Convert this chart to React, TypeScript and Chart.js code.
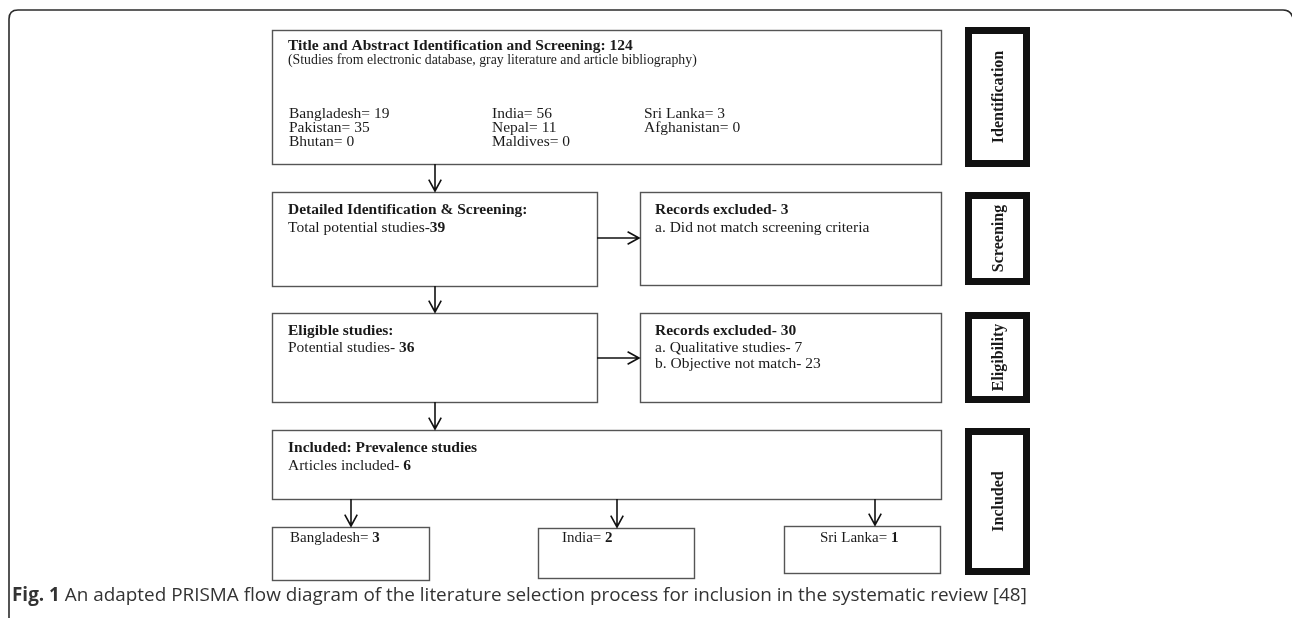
import React, { useEffect, useRef } from "react";
import { Chart, registerables } from "chart.js";

Chart.register(...registerables);

// ---- content (data) ----
const stageLabels = ["Identification", "Screening", "Eligibility", "Included"];
const screeningTotal = 124;
const sourceNote = "(Studies from electronic database, gray literature and article bibliography)";
const countryNames = ["Bangladesh", "Pakistan", "Bhutan", "India", "Nepal", "Maldives", "Sri Lanka", "Afghanistan"];
const countryCounts = [19, 35, 0, 56, 11, 0, 3, 0];
const detailedTotal = 39;
const excludedScreening = 3;
const screeningReason = "a. Did not match screening criteria";
const eligibleTotal = 36;
const excludedEligibility = 30;
const eligibilityReasons = ["a. Qualitative studies", "b. Objective not match"];
const eligibilityReasonCounts = [7, 23];
const includedTotal = 6;
const includedCountries = ["Bangladesh", "India", "Sri Lanka"];
const includedCounts = [3, 2, 1];
const captionLabel = "Fig. 1";
const captionText = " An adapted PRISMA flow diagram of the literature selection process for inclusion in the systematic review [48]";

// ---- layout (diagram coordinates, mapped through the chart scales) ----
const W = 1292;
const H = 618;
const SERIF = "'Liberation Serif', 'Times New Roman', serif";
const SANS = "'Open Sans', 'Noto Sans', sans-serif";
const FS = 15.5;

type Box = [number, number, number, number];
const boxTop: Box = [272, 30, 941, 164];
const boxDetailed: Box = [272, 192, 597, 286];
const boxExcl1: Box = [640, 192, 941, 285];
const boxEligible: Box = [272, 313, 597, 402];
const boxExcl2: Box = [640, 313, 941, 402];
const boxIncluded: Box = [272, 430, 941, 499];
const bottomBoxes: Box[] = [
  [272, 527, 429, 580],
  [538, 528, 694, 578],
  [784, 526, 940, 573],
];
const bottomTextX = [290, 562, 820];
const sideBoxes: Box[] = [
  [965, 27, 1030, 167],
  [965, 192, 1030, 285],
  [965, 312, 1030, 403],
  [965, 428, 1030, 575],
];
const countryColX = [289, 492, 644];

const flowPlugin = {
  id: "flow",
  afterDraw(chart: any) {
    const ctx: CanvasRenderingContext2D = chart.ctx;
    const xs = chart.scales.x;
    const ys = chart.scales.y;
    const px = (v: number) => xs.getPixelForValue(v);
    const py = (v: number) => ys.getPixelForValue(v);

    ctx.save();
    // outer frame
    ctx.strokeStyle = "#2b2b2b";
    ctx.lineWidth = 1.6;
    ctx.beginPath();
    ctx.moveTo(px(9), py(618));
    ctx.lineTo(px(9), py(19));
    ctx.quadraticCurveTo(px(9), py(10), px(18), py(10));
    ctx.lineTo(px(1283), py(10));
    ctx.quadraticCurveTo(px(1291), py(10), px(1293), py(18));
    ctx.stroke();

    const rect = (b: Box, color = "#555", lw = 1.4) => {
      ctx.strokeStyle = color;
      ctx.lineWidth = lw;
      ctx.strokeRect(px(b[0]) + 0.5, py(b[1]) + 0.5, px(b[2]) - px(b[0]), py(b[3]) - py(b[1]));
    };
    const arrow = (x1: number, y1: number, x2: number, y2: number) => {
      const ax = px(x1), ay = py(y1), bx = px(x2), by = py(y2);
      ctx.strokeStyle = "#111";
      ctx.lineWidth = 1.6;
      ctx.beginPath();
      ctx.moveTo(ax, ay);
      ctx.lineTo(bx, by);
      const ang = Math.atan2(by - ay, bx - ax);
      const L = 13, spread = 0.5;
      ctx.moveTo(bx - L * Math.cos(ang - spread), by - L * Math.sin(ang - spread));
      ctx.lineTo(bx, by);
      ctx.lineTo(bx - L * Math.cos(ang + spread), by - L * Math.sin(ang + spread));
      ctx.stroke();
    };
    const runs = (x: number, y: number, parts: [string, boolean][], size = FS, family = SERIF, color = "#1a1a1a") => {
      let cx = px(x);
      ctx.fillStyle = color;
      ctx.textBaseline = "alphabetic";
      ctx.textAlign = "left";
      for (const [t, bold] of parts) {
        ctx.font = `${bold ? "bold " : ""}${size}px ${family}`;
        ctx.fillText(t, cx, py(y));
        cx += ctx.measureText(t).width;
      }
    };

    // boxes
    [boxTop, boxDetailed, boxExcl1, boxEligible, boxExcl2, boxIncluded, ...bottomBoxes].forEach((b) => rect(b));

    // arrows
    arrow(435, 164, 435, 191);
    arrow(435, 286, 435, 312);
    arrow(435, 402, 435, 429);
    arrow(597, 238, 639, 238);
    arrow(597, 358, 639, 358);
    const bottomArrowX = [351, 617, 875];
    bottomArrowX.forEach((x, i) => arrow(x, 499, x, bottomBoxes[i][1] - 1));

    // top box text
    runs(288, 50, [[`Title and Abstract Identification and Screening: ${screeningTotal}`, true]]);
    runs(288, 64, [[sourceNote, false]], 13.8);
    countryNames.forEach((n, i) => {
      const col = Math.floor(i / 3);
      const row = i % 3;
      runs(countryColX[col], 118 + row * 14, [[`${n}= ${countryCounts[i]}`, false]]);
    });

    // detailed
    runs(288, 214, [["Detailed Identification & Screening:", true]]);
    runs(288, 232, [["Total potential studies-", false], [String(detailedTotal), true]]);
    runs(655, 214, [[`Records excluded- ${excludedScreening}`, true]]);
    runs(655, 232, [[screeningReason, false]]);

    // eligible
    runs(288, 335, [["Eligible studies:", true]]);
    runs(288, 352, [["Potential studies- ", false], [String(eligibleTotal), true]]);
    runs(655, 335, [[`Records excluded- ${excludedEligibility}`, true]]);
    eligibilityReasons.forEach((r, i) => runs(655, 352 + i * 16, [[`${r}- ${eligibilityReasonCounts[i]}`, false]]));

    // included
    runs(288, 452, [["Included: Prevalence studies", true]]);
    runs(288, 470, [["Articles included- ", false], [String(includedTotal), true]]);
    includedCountries.forEach((c, i) => {
      runs(bottomTextX[i], 542, [[`${c}= `, false], [String(includedCounts[i]), true]], 15);
    });

    // side stage boxes
    sideBoxes.forEach((b, i) => {
      const x0 = px(b[0]), y0 = py(b[1]), x1 = px(b[2]), y1 = py(b[3]);
      const t = 7;
      ctx.strokeStyle = "#111";
      ctx.lineWidth = t;
      ctx.strokeRect(x0 + t / 2, y0 + t / 2, x1 - x0 - t, y1 - y0 - t);
      ctx.save();
      ctx.translate((x0 + x1) / 2, (y0 + y1) / 2);
      ctx.rotate(-Math.PI / 2);
      ctx.font = `bold 16px ${SERIF}`;
      ctx.fillStyle = "#1a1a1a";
      ctx.textAlign = "center";
      ctx.textBaseline = "middle";
      ctx.fillText(stageLabels[i], 0, 1);
      ctx.restore();
    });

    // caption
    runs(12, 601, [[captionLabel, true], [captionText, false]], 18.9, SANS, "#333");
    ctx.restore();
  },
};

export default function App() {
  const ref = useRef<HTMLCanvasElement | null>(null);
  useEffect(() => {
    if (!ref.current) return;
    const chart = new Chart(ref.current, {
      type: "scatter",
      data: { datasets: [{ data: [], pointRadius: 0 }] },
      options: {
        animation: false,
        responsive: false,
        devicePixelRatio: 1,
        layout: { padding: 0 },
        plugins: { legend: { display: false }, tooltip: { enabled: false } },
        scales: {
          x: { type: "linear", min: 0, max: W, display: false },
          y: { type: "linear", min: 0, max: H, reverse: true, display: false },
        },
      },
      plugins: [flowPlugin],
    });
    return () => chart.destroy();
  }, []);
  return (
    <div style={{ position: "fixed", left: 0, top: 0, width: W, height: H, background: "#fff" }}>
      <canvas ref={ref} width={W} height={H} style={{ width: W, height: H, display: "block" }} />
    </div>
  );
}
